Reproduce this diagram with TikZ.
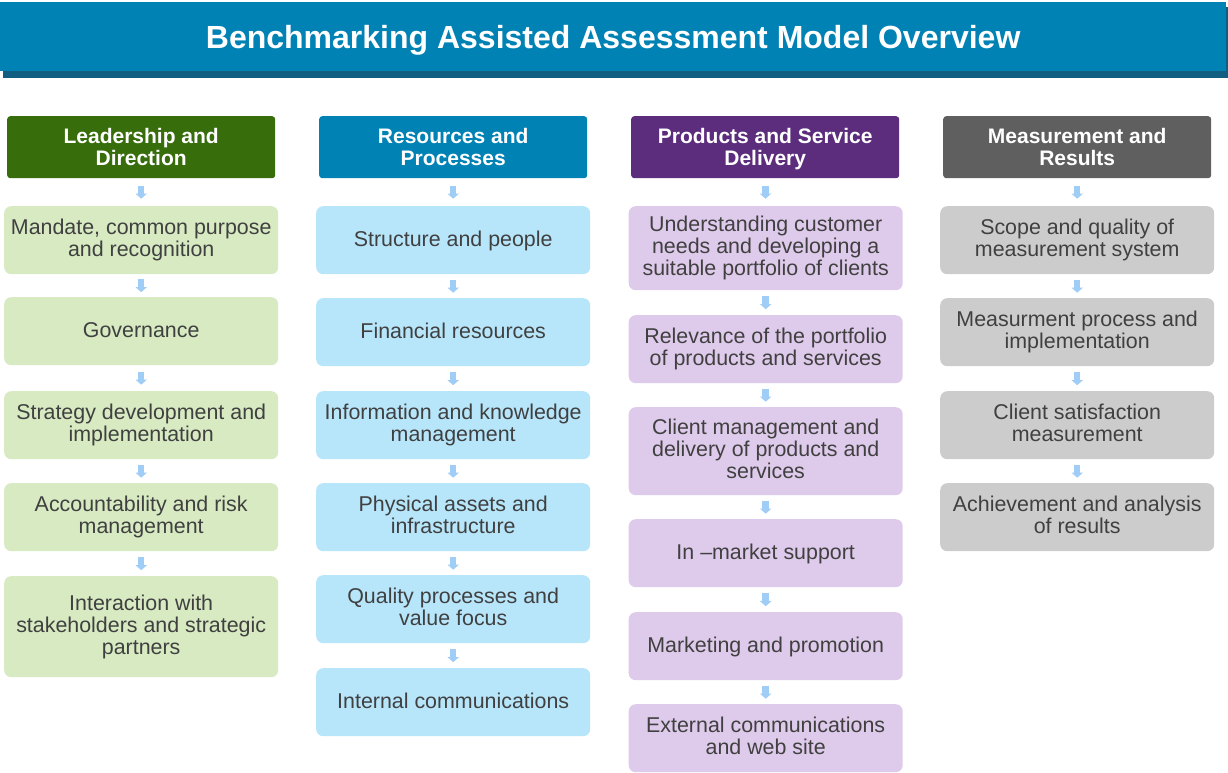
\documentclass[tikz,border=0pt]{standalone}
\usepackage{fontspec}
\setmainfont{Liberation Sans}
\usetikzlibrary{arrows.meta,calc}
\definecolor{titleblue}{RGB}{0,130,180}
\definecolor{titleshadow}{RGB}{18,94,128}
\definecolor{hgreen}{RGB}{55,109,11}
\definecolor{hblue}{RGB}{0,130,180}
\definecolor{hpurple}{RGB}{93,45,125}
\definecolor{hgray}{RGB}{95,95,95}
\definecolor{lgreen}{RGB}{215,234,194}
\definecolor{lblue}{RGB}{183,230,251}
\definecolor{lpurple}{RGB}{222,202,234}
\definecolor{lgray}{RGB}{204,204,204}
\definecolor{arrowc}{RGB}{160,205,245}
\definecolor{txt}{RGB}{64,64,64}
\newcommand\hdrstrut{\rule{0pt}{19pt}}
\tikzset{
  titlebox/.style={fill=titleblue, text=white, font=\fontsize{32}{34}\selectfont\bfseries,
    minimum width=1226pt, minimum height=69pt, inner sep=0pt, text depth=0pt, anchor=north west},
  even/.style={execute at begin node={\rule{0pt}{#1}}, execute at end node={\vphantom{g}}},
  hdr/.style={fill=#1, rounded corners=3pt, text=white, font=\fontsize{21}{21.5}\selectfont\bfseries,
    align=center, minimum width=268pt, minimum height=62pt, inner sep=0pt, anchor=north west, even=19pt},
  itm/.style={fill=#1, rounded corners=7pt, text=txt, font=\fontsize{21.4}{22}\selectfont,
    align=center, minimum width=274pt, inner sep=0pt, anchor=north west, even=17pt},
  flow/.style={draw=arrowc, line width=6.5pt, -{Triangle[width=11pt,length=5pt]}}
}
\newcommand\flowarrow[2]{\draw[flow] ($(#1.south)!0.5!(#2.north)+(0,-6.5)$) -- ($(#1.south)!0.5!(#2.north)+(0,6.5)$);}
\begin{document}
\begin{tikzpicture}[x=1pt,y=-1pt]
\useasboundingbox (0,0) rectangle (1228,773);
\fill[titleshadow] (3,7) rectangle (1228,78);
\node[titlebox] (title) at (0,2) {Benchmarking Assisted Assessment Model Overview};
% column 1
\node[hdr=hgreen] (h1) at (7,116) {\hdrstrut Leadership and\\Direction};
\node[itm=lgreen, minimum height=68pt] (a1) at (4,206) {Mandate, common purpose\\and recognition};
\node[itm=lgreen, minimum height=68pt] (a2) at (4,297) {Governance};
\node[itm=lgreen, minimum height=68pt] (a3) at (4,391) {Strategy development and\\implementation};
\node[itm=lgreen, minimum height=68pt] (a4) at (4,483) {Accountability and risk\\management};
\node[itm=lgreen, minimum height=101pt] (a5) at (4,576) {Interaction with\\stakeholders and strategic\\partners};
% column 2
\node[hdr=hblue] (h2) at (319,116) {\hdrstrut Resources and\\Processes};
\node[itm=lblue, minimum height=68pt] (b1) at (316,206) {Structure and people};
\node[itm=lblue, minimum height=68pt] (b2) at (316,298) {Financial resources};
\node[itm=lblue, minimum height=68pt] (b3) at (316,391) {Information and knowledge\\management};
\node[itm=lblue, minimum height=68pt] (b4) at (316,483) {Physical assets and\\infrastructure};
\node[itm=lblue, minimum height=68pt] (b5) at (316,575) {Quality processes and\\value focus};
\node[itm=lblue, minimum height=68pt] (b6) at (316,668) {Internal communications};
% column 3
\node[hdr=hpurple] (h3) at (631,116) {\hdrstrut Products and Service\\Delivery};
\node[itm=lpurple, minimum height=84pt] (c1) at (628.5,206) {Understanding customer\\needs and developing a\\suitable portfolio of clients};
\node[itm=lpurple, minimum height=68pt] (c2) at (628.5,315) {Relevance of the portfolio\\of products and services};
\node[itm=lpurple, minimum height=88pt] (c3) at (628.5,407) {Client management and\\delivery of products and\\services};
\node[itm=lpurple, minimum height=68pt] (c4) at (628.5,519) {In –market support};
\node[itm=lpurple, minimum height=68pt] (c5) at (628.5,612) {Marketing and promotion};
\node[itm=lpurple, minimum height=68pt] (c6) at (628.5,704) {External communications\\and web site};
% column 4
\node[hdr=hgray] (h4) at (943,116) {\hdrstrut Measurement and\\Results};
\node[itm=lgray, minimum height=68pt] (d1) at (940,206) {Scope and quality of\\measurement system};
\node[itm=lgray, minimum height=68pt] (d2) at (940,298) {Measurment process and\\implementation};
\node[itm=lgray, minimum height=68pt] (d3) at (940,391) {Client satisfaction\\measurement};
\node[itm=lgray, minimum height=68pt] (d4) at (940,483) {Achievement and analysis\\of results};
% arrows
\flowarrow{h1}{a1}\flowarrow{a1}{a2}\flowarrow{a2}{a3}\flowarrow{a3}{a4}\flowarrow{a4}{a5}
\flowarrow{h2}{b1}\flowarrow{b1}{b2}\flowarrow{b2}{b3}\flowarrow{b3}{b4}\flowarrow{b4}{b5}\flowarrow{b5}{b6}
\flowarrow{h3}{c1}\flowarrow{c1}{c2}\flowarrow{c2}{c3}\flowarrow{c3}{c4}\flowarrow{c4}{c5}\flowarrow{c5}{c6}
\flowarrow{h4}{d1}\flowarrow{d1}{d2}\flowarrow{d2}{d3}\flowarrow{d3}{d4}
\end{tikzpicture}
\end{document}
